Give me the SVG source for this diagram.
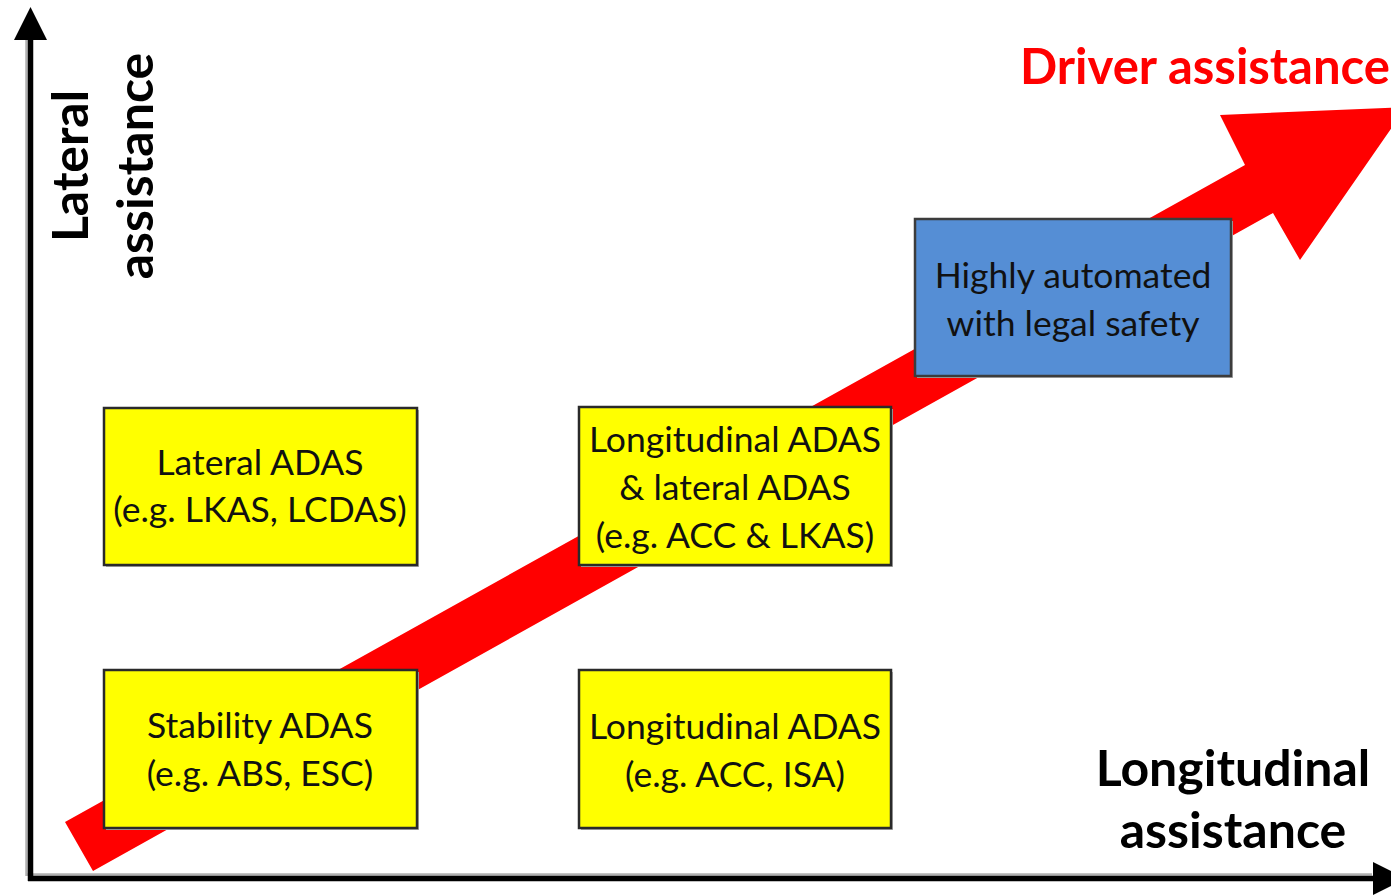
<svg xmlns="http://www.w3.org/2000/svg" width="1391" height="895" viewBox="0 0 1391 895">
  <style>
    .box-y { fill: #ffff00; stroke: #2a2a2a; stroke-width: 2.5; }
    .box-b { fill: #558ed5; stroke: #3c3c3c; stroke-width: 2.5; }
    .shadow { fill: #b0b0b0; }
    .lbl { font-family: Lato, "Liberation Sans", sans-serif; font-size: 35.5px; fill: #111; text-anchor: middle; }
    .axis-lbl { font-family: Lato, "Liberation Sans", sans-serif; font-size: 50px; font-weight: bold; fill: #000; text-anchor: middle; }
    .trend-lbl { font-family: Lato, "Liberation Sans", sans-serif; font-size: 49px; font-weight: bold; fill: #ff0000; }
    .axis { stroke: #000; stroke-width: 5.5; fill: none; }
    .axis-sh { stroke: #b0b0b0; stroke-width: 2.5; fill: none; }
  </style>

  <rect width="1391" height="895" fill="#ffffff"/>

  <!-- axes and trend arrow -->
  <g id="connectors">
    <line class="axis-sh" x1="26.5" y1="38" x2="26.5" y2="876"/>
    <line class="axis-sh" x1="26" y1="874.5" x2="1372" y2="874.5"/>
    <line class="axis" x1="30.5" y1="36" x2="30.5" y2="881"/>
    <line class="axis" x1="28" y1="878.5" x2="1376" y2="878.5"/>
    <polygon points="30.5,7 47,40 14,40" fill="#000"/>
    <polygon points="1406,878.5 1373,862 1373,895" fill="#000"/>
    <polygon id="trend-arrow" points="65,822 1245,165 1220,115 1406,107 1300,260 1273,213 93,871" fill="#ff0000"/>
  </g>

  <g id="node-stability">
    <rect class="shadow" x="106" y="672" width="313" height="158"/>
    <rect class="box-y" x="104" y="670" width="313" height="158"/>
    <text class="lbl" x="260" y="738">Stability ADAS</text>
    <text class="lbl" x="260" y="786">(e.g. ABS, ESC)</text>
  </g>

  <g id="node-lateral">
    <rect class="shadow" x="106" y="410" width="313" height="157"/>
    <rect class="box-y" x="104" y="408" width="313" height="157"/>
    <text class="lbl" x="260" y="475">Lateral ADAS</text>
    <text class="lbl" x="260" y="522">(e.g. LKAS, LCDAS)</text>
  </g>

  <g id="node-longitudinal">
    <rect class="shadow" x="581" y="672" width="312" height="158"/>
    <rect class="box-y" x="579" y="670" width="312" height="158"/>
    <text class="lbl" x="735" y="739">Longitudinal ADAS</text>
    <text class="lbl" x="735" y="787">(e.g. ACC, ISA)</text>
  </g>

  <g id="node-combined">
    <rect class="shadow" x="581" y="409" width="312" height="158"/>
    <rect class="box-y" x="579" y="407" width="312" height="158"/>
    <text class="lbl" x="735" y="452">Longitudinal ADAS</text>
    <text class="lbl" x="735" y="500">&amp; lateral ADAS</text>
    <text class="lbl" x="735" y="548">(e.g. ACC &amp; LKAS)</text>
  </g>

  <g id="node-automated">
    <rect class="shadow" x="917" y="221" width="316" height="157"/>
    <rect class="box-b" x="915" y="219" width="316" height="157"/>
    <text class="lbl" x="1073" y="288">Highly automated</text>
    <text class="lbl" x="1073" y="336">with legal safety</text>
  </g>

  <g id="label-lateral">
    <text class="axis-lbl" transform="translate(88,166) rotate(-90)" x="0" y="0">Lateral</text>
    <text class="axis-lbl" transform="translate(153,166) rotate(-90)" x="0" y="0">assistance</text>
  </g>

  <g id="label-longitudinal">
    <text class="axis-lbl" x="1233" y="786">Longitudinal</text>
    <text class="axis-lbl" x="1233" y="848">assistance</text>
  </g>

  <g id="label-driver">
    <text class="trend-lbl" x="1020" y="84">Driver assistance</text>
  </g>
</svg>
